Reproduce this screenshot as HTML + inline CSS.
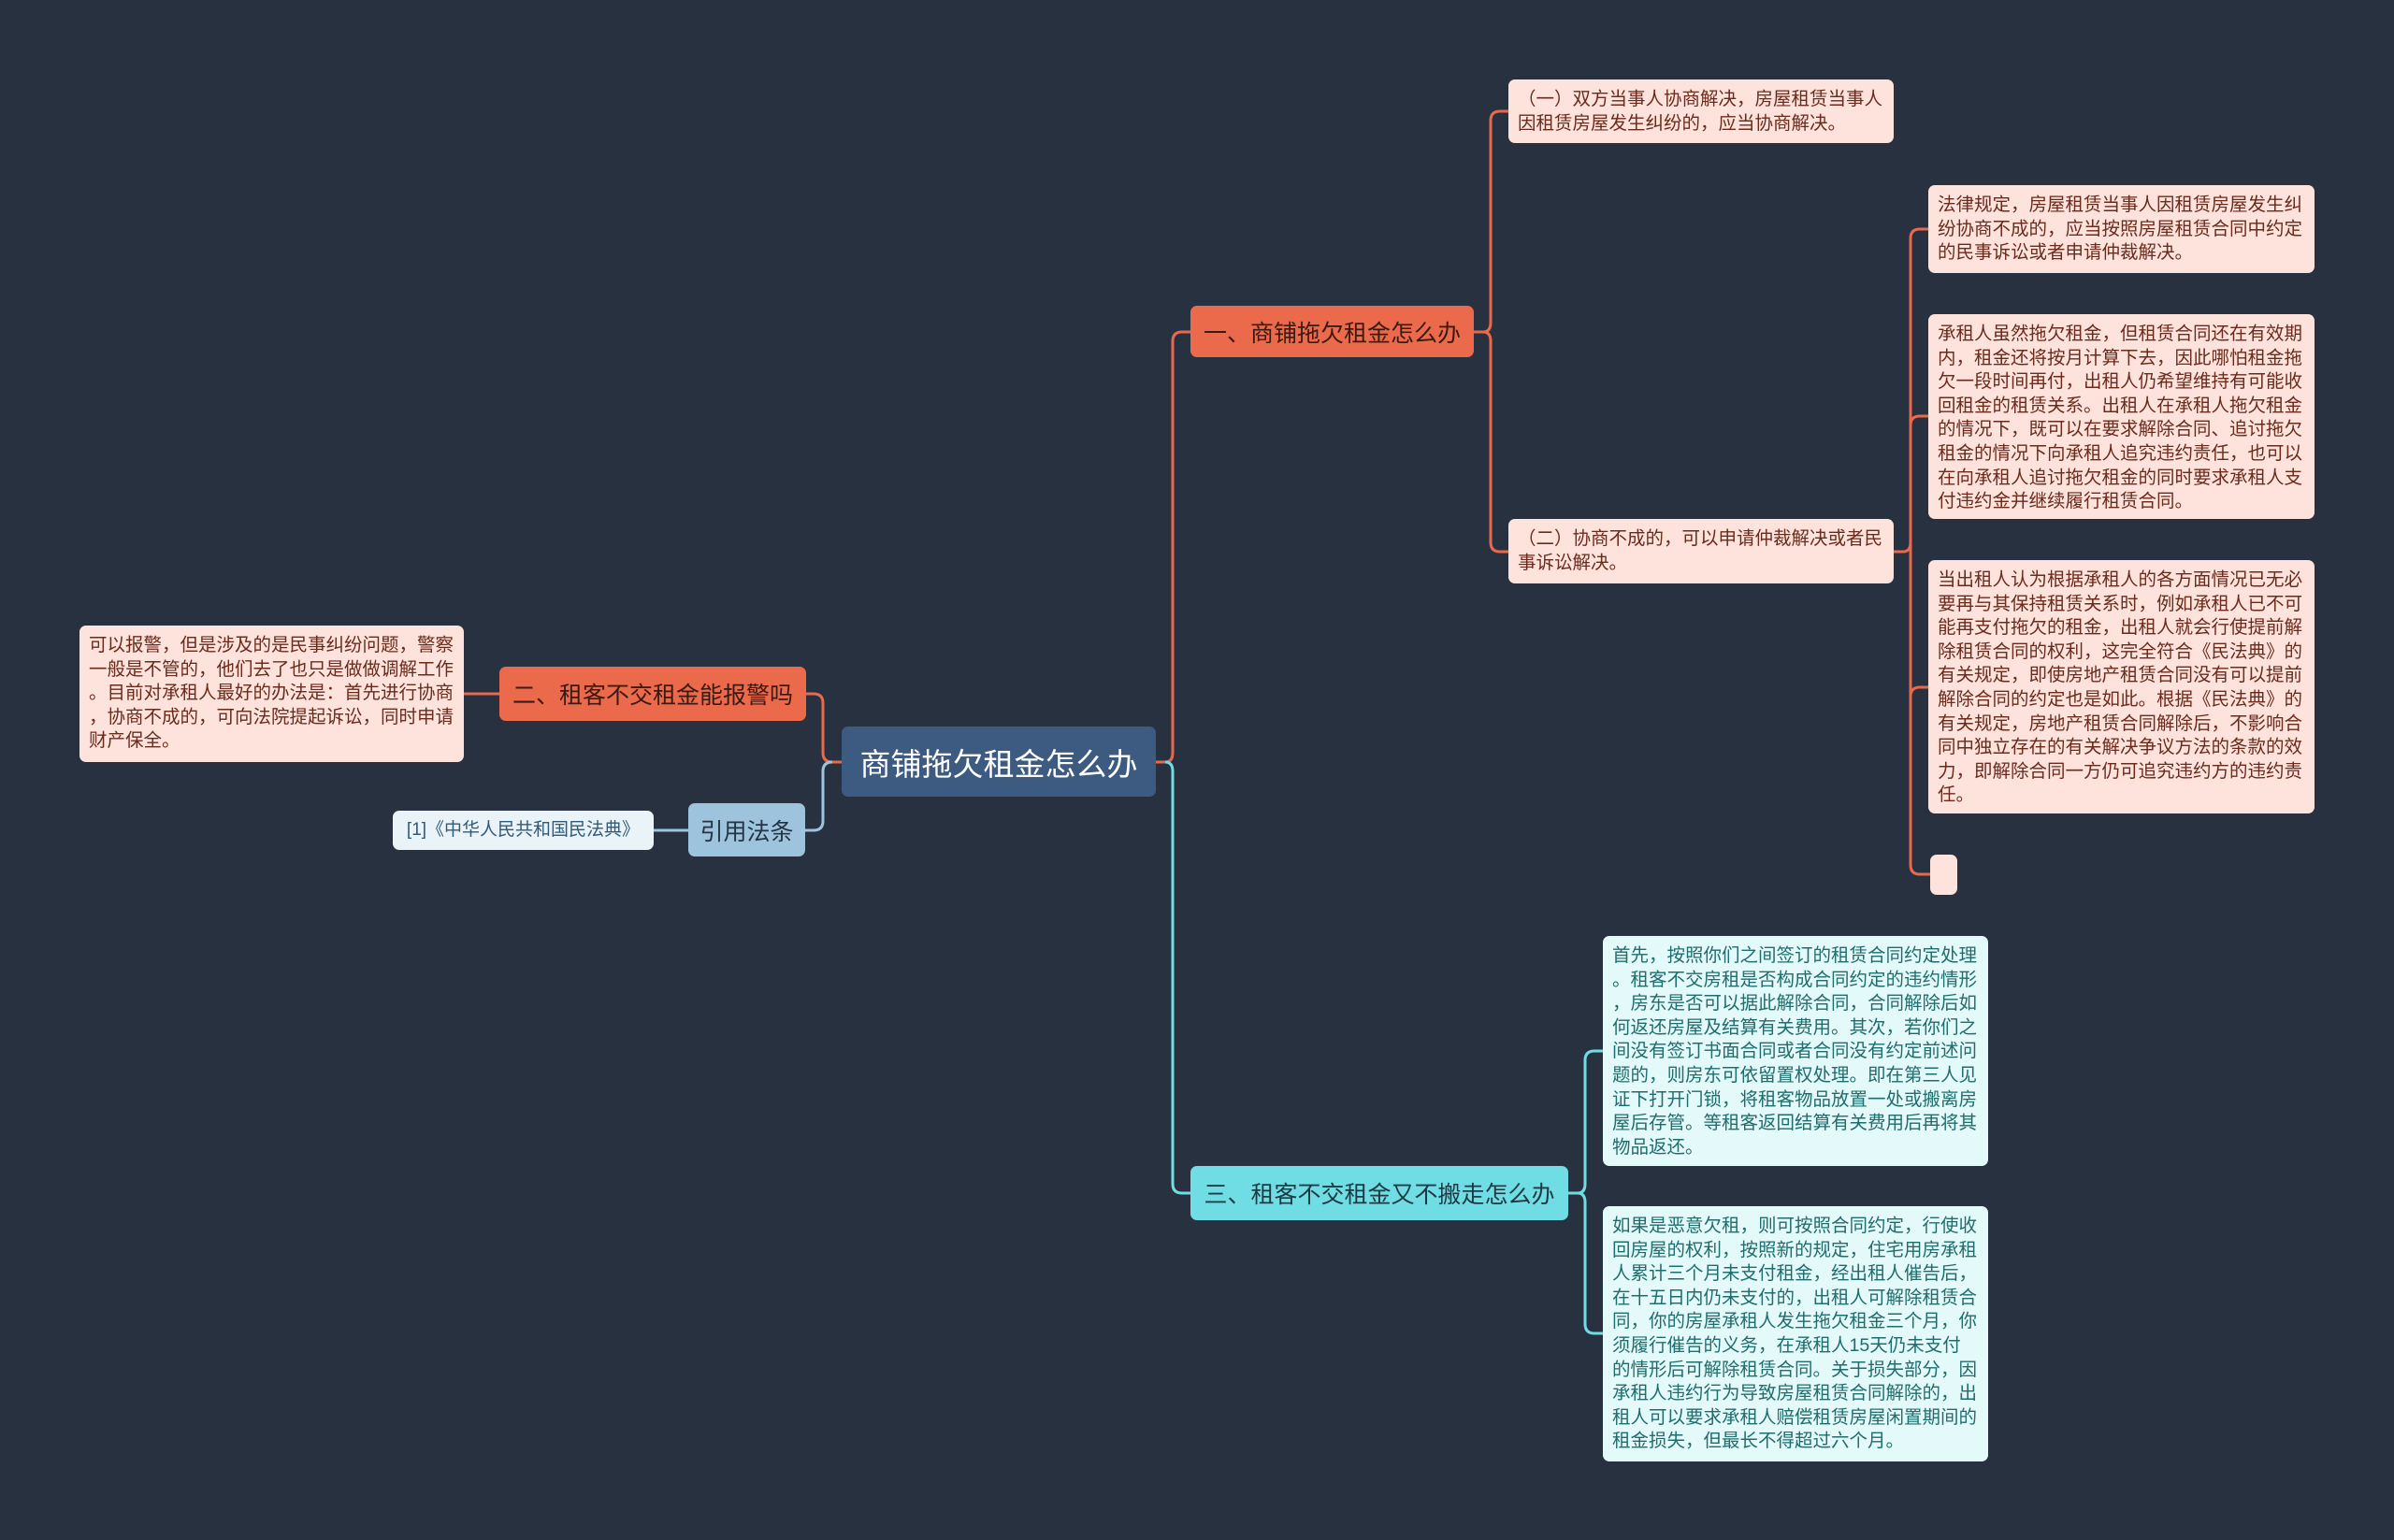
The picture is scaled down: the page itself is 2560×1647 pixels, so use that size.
<!DOCTYPE html>
<html><head><meta charset="utf-8"><style>
body{margin:0;width:2560px;height:1647px;background:#283140;position:relative;overflow:hidden;font-family:"Liberation Sans","Noto Sans CJK SC",sans-serif}
.b{position:absolute;box-sizing:border-box;border-radius:7px;white-space:nowrap}
.t{font-size:19.5px;line-height:25.6px;padding:9px 10px 7px}
.r{background:#fde3dc;color:#6b2a1c}
.c{background:#e4f9f9;color:#1f6d6d}
.n{display:flex;align-items:center;justify-content:center}
</style></head><body>
<svg width="2560" height="1647" style="position:absolute;left:0;top:0" fill="none" stroke-width="3">
<g stroke="#e8694c">
<path d="M1236 815 H1246 Q1254 815 1254 805 V365 Q1254 355 1264 355 H1273"/>
<path d="M1576 355 H1586 Q1594 355 1594 345 V129 Q1594 119 1604 119 H1613"/>
<path d="M1586 355 Q1594 355 1594 365 V580 Q1594 590 1604 590 H1613"/>
<path d="M2025 590 H2035 Q2043 590 2043 580 V255 Q2043 245 2053 245 H2062"/>
<path d="M2053 445 H2062"/>
<path d="M2043 580 V925 Q2043 935 2053 935 H2064"/>
<path d="M2043 455 Q2043 445 2053 445"/>
<path d="M2043 745 Q2043 735 2053 735 H2062"/>
<path d="M900 815 H890 Q880 815 880 805 V752 Q880 742 870 742 H862"/>
<path d="M534 742 H496"/>
</g>
<g stroke="#6fdde3">
<path d="M1246 815 Q1254 815 1254 825 V1266 Q1254 1276 1264 1276 H1273"/>
<path d="M1677 1276 H1687 Q1695 1276 1695 1266 V1134 Q1695 1124 1705 1124 H1714"/>
<path d="M1687 1276 Q1695 1276 1695 1286 V1416 Q1695 1426 1705 1426 H1714"/>
</g>
<g stroke="#9ec3dc">
<path d="M890 815 Q880 815 880 825 V878 Q880 888 870 888 H861"/>
<path d="M736 888 H699"/>
</g>
</svg>

<div class="b n" style="left:900px;top:777px;width:336px;height:75px;background:#3d5a80;color:#fff;font-size:33px">商铺拖欠租金怎么办</div>
<div class="b n" style="left:1273px;top:327px;width:303px;height:55px;background:#ec6a4c;color:#3a1a12;font-size:25px">一、商铺拖欠租金怎么办</div>
<div class="b n" style="left:534px;top:713px;width:328px;height:58px;background:#ec6a4c;color:#3a1a12;font-size:25px">二、租客不交租金能报警吗</div>
<div class="b n" style="left:736px;top:859px;width:125px;height:57px;background:#9ec3dc;color:#243445;font-size:25px">引用法条</div>
<div class="b n" style="left:1273px;top:1247px;width:404px;height:58px;background:#6fdde3;color:#1d3a44;font-size:25px">三、租客不交租金又不搬走怎么办</div>

<div class="b t n" style="left:420px;top:867px;width:279px;height:42px;background:#eaf3f8;color:#2f5c7a;font-size:19px;padding:0">[1]《中华人民共和国民法典》</div>

<div class="b t r" style="left:85px;top:669px;width:411px;height:146px">可以报警，但是涉及的是民事纠纷问题，警察<br>一般是不管的，他们去了也只是做做调解工作<br>。目前对承租人最好的办法是：首先进行协商<br>，协商不成的，可向法院提起诉讼，同时申请<br>财产保全。</div>

<div class="b t r" style="left:1613px;top:85px;width:412px;height:68px">（一）双方当事人协商解决，房屋租赁当事人<br>因租赁房屋发生纠纷的，应当协商解决。</div>
<div class="b t r" style="left:1613px;top:555px;width:412px;height:69px">（二）协商不成的，可以申请仲裁解决或者民<br>事诉讼解决。</div>

<div class="b t r" style="left:2062px;top:198px;width:413px;height:94px">法律规定，房屋租赁当事人因租赁房屋发生纠<br>纷协商不成的，应当按照房屋租赁合同中约定<br>的民事诉讼或者申请仲裁解决。</div>
<div class="b t r" style="left:2062px;top:336px;width:413px;height:219px">承租人虽然拖欠租金，但租赁合同还在有效期<br>内，租金还将按月计算下去，因此哪怕租金拖<br>欠一段时间再付，出租人仍希望维持有可能收<br>回租金的租赁关系。出租人在承租人拖欠租金<br>的情况下，既可以在要求解除合同、追讨拖欠<br>租金的情况下向承租人追究违约责任，也可以<br>在向承租人追讨拖欠租金的同时要求承租人支<br>付违约金并继续履行租赁合同。</div>
<div class="b t r" style="left:2062px;top:599px;width:413px;height:271px">当出租人认为根据承租人的各方面情况已无必<br>要再与其保持租赁关系时，例如承租人已不可<br>能再支付拖欠的租金，出租人就会行使提前解<br>除租赁合同的权利，这完全符合《民法典》的<br>有关规定，即使房地产租赁合同没有可以提前<br>解除合同的约定也是如此。根据《民法典》的<br>有关规定，房地产租赁合同解除后，不影响合<br>同中独立存在的有关解决争议方法的条款的效<br>力，即解除合同一方仍可追究违约方的违约责<br>任。</div>
<div class="b r" style="left:2064px;top:914px;width:29px;height:43px"></div>

<div class="b t c" style="left:1714px;top:1001px;width:412px;height:246px">首先，按照你们之间签订的租赁合同约定处理<br>。租客不交房租是否构成合同约定的违约情形<br>，房东是否可以据此解除合同，合同解除后如<br>何返还房屋及结算有关费用。其次，若你们之<br>间没有签订书面合同或者合同没有约定前述问<br>题的，则房东可依留置权处理。即在第三人见<br>证下打开门锁，将租客物品放置一处或搬离房<br>屋后存管。等租客返回结算有关费用后再将其<br>物品返还。</div>
<div class="b t c" style="left:1714px;top:1290px;width:412px;height:273px">如果是恶意欠租，则可按照合同约定，行使收<br>回房屋的权利，按照新的规定，住宅用房承租<br>人累计三个月未支付租金，经出租人催告后，<br>在十五日内仍未支付的，出租人可解除租赁合<br>同，你的房屋承租人发生拖欠租金三个月，你<br>须履行催告的义务，在承租人15天仍未支付<br>的情形后可解除租赁合同。关于损失部分，因<br>承租人违约行为导致房屋租赁合同解除的，出<br>租人可以要求承租人赔偿租赁房屋闲置期间的<br>租金损失，但最长不得超过六个月。</div>
</body></html>
